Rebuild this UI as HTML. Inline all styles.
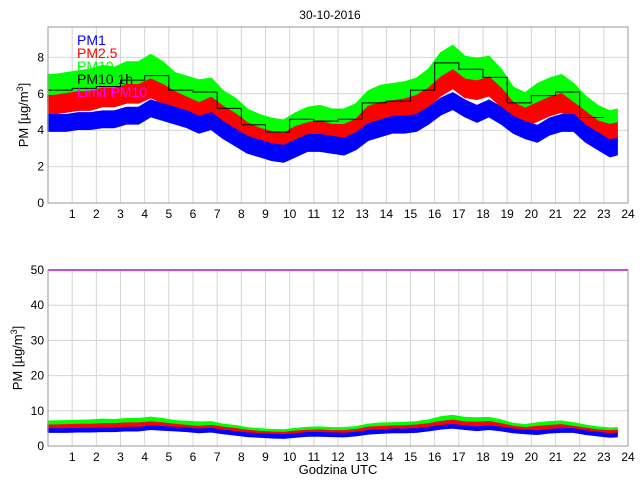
<!DOCTYPE html>
<html><head><meta charset="utf-8"><style>
body{margin:0;background:#fff;}
svg{font-family:"Liberation Sans",sans-serif;}
</style></head><body>
<svg id="c" width="640" height="480" viewBox="0 0 640 480">
<text x="330" y="19" font-size="12" text-anchor="middle">30-10-2016</text>
<g id="top"></g>
<g id="bot"></g>
<text x="338" y="474" font-size="13" text-anchor="middle">Godzina UTC</text>
<text transform="translate(28,115) rotate(-90)" font-size="13" text-anchor="middle">PM [µg/m<tspan dy="-5" font-size="9">3</tspan><tspan dy="5">]</tspan></text>
<text transform="translate(22,358) rotate(-90)" font-size="13" text-anchor="middle">PM [µg/m<tspan dy="-5" font-size="9">3</tspan><tspan dy="5">]</tspan></text>
<g id="legend" font-size="14">
<text x="77" y="45" fill="#0000ff">PM1</text>
<text x="77" y="58" fill="#ff0000">PM2.5</text>
<text x="77" y="71" fill="#00ff00">PM10</text>
<text x="77" y="84" fill="#000">PM10 1h</text>
<text x="77" y="97" fill="#ff00ff">Limit PM10</text>
</g>
</svg>
<script>
const hours=[];for(let i=0;i<48;i++)hours.push(i*0.5+0.25);
const pm1=[4.4,4.4,4.5,4.5,4.6,4.6,4.8,4.8,5.2,5.0,4.8,4.6,4.3,4.5,4.0,3.6,3.2,3.0,2.8,2.7,3.0,3.3,3.3,3.2,3.1,3.4,3.9,4.1,4.3,4.3,4.4,4.8,5.3,5.6,5.2,4.9,5.2,4.8,4.3,4.0,3.8,4.2,4.4,4.4,3.8,3.4,3.0,3.1];
const pm25=[5.4,5.5,5.6,5.6,5.8,5.8,6.0,6.0,6.3,6.0,5.6,5.3,5.0,5.3,4.8,4.4,3.9,3.6,3.4,3.3,3.7,3.9,4.0,3.8,3.8,4.1,4.8,5.0,5.1,5.2,5.4,5.8,6.4,6.8,6.3,6.2,6.4,5.8,5.0,4.7,5.0,5.3,5.5,5.0,4.5,4.0,3.8,3.9];
const pm10=[6.3,6.4,6.5,6.6,6.8,6.7,7.0,7.0,7.4,7.0,6.4,6.2,6.0,6.1,5.4,5.0,4.4,4.1,3.9,3.8,4.2,4.5,4.6,4.4,4.4,4.7,5.4,5.7,5.8,5.9,6.1,6.6,7.5,7.9,7.3,7.2,7.3,6.6,5.6,5.3,5.8,6.1,6.3,5.8,5.1,4.6,4.3,4.4];
const halfWidths=[0.45,0.5,0.75];
const pm10h=[6.2,6.3,6.4,6.75,7.0,6.2,6.1,5.2,4.3,3.9,4.6,4.5,4.6,5.5,5.6,6.2,7.7,7.35,6.9,5.5,5.9,6.1,4.7];
const limit=50;
const xTicks=[1,2,3,4,5,6,7,8,9,10,11,12,13,14,15,16,17,18,19,20,21,22,23,24];
const topYTicks=[0,2,4,6,8];
const botYTicks=[0,10,20,30,40,50];
const NS="http://www.w3.org/2000/svg";
const X0=48,X1=628;
const xs=h=>X0+(X1-X0)*h/24;
function mk(p,t,a){const e=document.createElementNS(NS,t);for(const k in a)e.setAttribute(k,a[k]);p.appendChild(e);return e;}
function panel(g,top,bot,ymax,yt,withLimit){
 const ys=v=>bot-(bot-top)*v/ymax;
 for(const t of xTicks){const l=mk(g,'line',{x1:xs(t),x2:xs(t),y1:top,y2:bot,stroke:'#d4d4d4'});
 
 
 const tx=mk(g,'text',{x:xs(t),y:bot+15,'font-size':12,'text-anchor':'middle'});tx.textContent=t;
 
 }
 for(const t of yt){const l=mk(g,'line',{x1:X0,x2:X1,y1:ys(t),y2:ys(t),stroke:'#d4d4d4'});
 
 
 const tx=mk(g,'text',{x:X0-4,y:ys(t)+4,'font-size':12,'text-anchor':'end'});tx.textContent=t;
 
 }
 const series=[[pm10,'#00ff00',halfWidths[2],'pm10-band'],[pm25,'#ff0000',halfWidths[1],'pm25-band'],[pm1,'#0000ff',halfWidths[0],'pm1-band']];
 for(const [d,c,hw,nm] of series){
  let up=[],dn=[];
  d.forEach((v,i)=>{const h=Math.min(hours[i],23.55);up.push(xs(h)+','+ys(v+hw));dn.unshift(xs(h)+','+ys(v-hw));});
  up.unshift(xs(0)+','+ys(d[0]+hw));dn.push(xs(0)+','+ys(d[0]-hw));
  up.push(xs(23.55)+','+ys(d[d.length-1]+hw));dn.unshift(xs(23.55)+','+ys(d[d.length-1]-hw));
  const p=mk(g,'polygon',{points:up.concat(dn).join(' '),fill:c,stroke:c,'stroke-width':1.5,'stroke-linejoin':'round'});
  
  
 }
 if(!withLimit){
  let pts=[];pm10h.forEach((v,i)=>{pts.push(xs(i)+','+ys(v));pts.push(xs(i+1)+','+ys(v));});
  const pl=mk(g,'polyline',{points:pts.join(' '),fill:'none',stroke:'#000','stroke-width':1});
  
  
 } else {
  const l=mk(g,'line',{x1:X0,x2:X1,y1:ys(limit),y2:ys(limit),stroke:'#ff00ff','stroke-width':2});
  
  
 }
 const r=mk(g,'rect',{x:X0,y:top,width:X1-X0,height:bot-top,fill:'none',stroke:'#999'});
 
 
}
panel(document.getElementById('top'),27,203,9.67,topYTicks,false);
panel(document.getElementById('bot'),270,446,50,botYTicks,true);
document.getElementById('c').appendChild(document.getElementById('legend'));
</script>
</body></html>
